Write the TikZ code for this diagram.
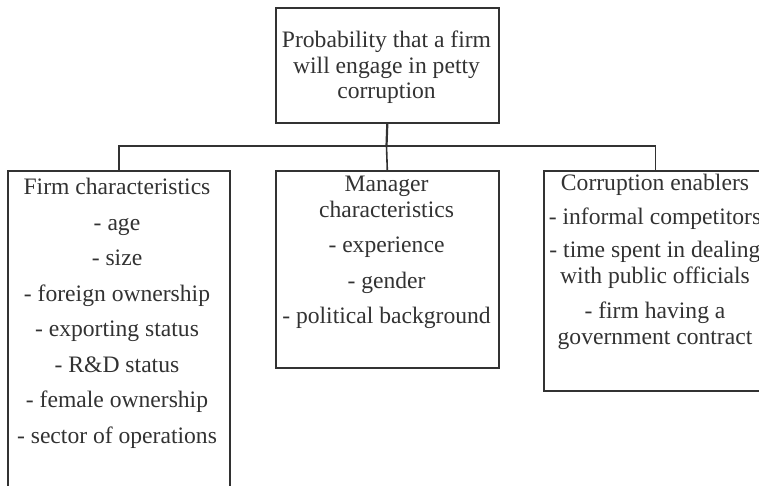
\documentclass[tikz,border=0pt]{standalone}
\usepackage{fontspec}
\setmainfont{Liberation Serif}
\definecolor{ink}{RGB}{50,50,50}
\begin{document}
\begin{tikzpicture}[x=1pt,y=-1pt,
  frame/.style={draw=ink, line width=1.6pt, rectangle, inner sep=0pt, anchor=north west},
  txt/.style={text=ink, font=\fontsize{23.6}{25.5}\selectfont, align=center, inner sep=0pt, anchor=north},
  link/.style={draw=ink, line width=1.6pt}]
\useasboundingbox (0,0) rectangle (759,486);
\clip (0,0) rectangle (759,486);

% boxes
\node[frame, minimum width=223, minimum height=115] (goal)  at (275,7)   {};
\node[frame, minimum width=222, minimum height=340] (firm)  at (7,170)   {};
\node[frame, minimum width=223, minimum height=197] (mgr)   at (275,170) {};
\node[frame, minimum width=223, minimum height=220] (enab)  at (543,170) {};

% texts
\node[txt] (goaltxt) at (386.5,31)
  {Probability that a firm\\will engage in petty\\corruption};
\node[txt] (firmtxt) at (117,178)
  {Firm characteristics\\[10pt]- age\\[10pt]- size\\[10pt]- foreign ownership\\[10pt]- exporting status\\[10pt]- R\&D status\\[10pt]- female ownership\\[10pt]- sector of operations};
\node[txt] (mgrtxt) at (386.5,176)
  {Manager\\characteristics\\[10pt]- experience\\[10pt]- gender\\[10pt]- political background};
\node[txt] (enabtxt) at (655,174)
  {Corruption enablers\\[8pt]- informal competitors\\[8pt]- time spent in dealing\\with public officials\\[10pt]- firm having a\\government contract};

% connectors
\coordinate (fork) at (386.5,146);
\draw[link, line width=2.2pt] (goal.south) -- (fork);
\draw[link] (firm.north) |- (fork) -| (enab.north);
\draw[link] (fork) -- (mgr.north);
\end{tikzpicture}
\end{document}
